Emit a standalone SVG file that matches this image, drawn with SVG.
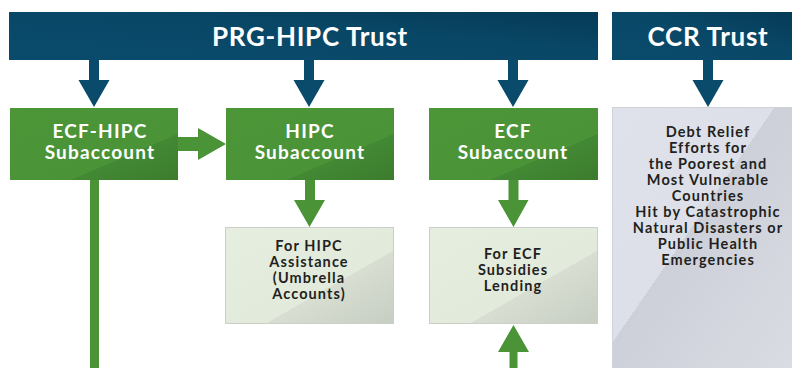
<svg xmlns="http://www.w3.org/2000/svg" width="792" height="368" viewBox="0 0 792 368">
<defs>
<linearGradient id="gBlue" x1="0" y1="1" x2="1" y2="0">
<stop offset="0" stop-color="#0a4b6c"/>
<stop offset="0.6" stop-color="#094766"/>
<stop offset="1" stop-color="#053a57"/>
</linearGradient>
<linearGradient id="gGreen" x1="0" y1="0" x2="1" y2="1">
<stop offset="0" stop-color="#4c9638"/>
<stop offset="0.68" stop-color="#4a9337"/>
<stop offset="0.68" stop-color="#438934"/>
<stop offset="1" stop-color="#3b7c2d"/>
</linearGradient>
<linearGradient id="gLight" x1="0" y1="0" x2="1" y2="1">
<stop offset="0" stop-color="#e6eee0"/>
<stop offset="0.62" stop-color="#e2eadc"/>
<stop offset="0.62" stop-color="#d8ded2"/>
<stop offset="1" stop-color="#c6cdc2"/>
</linearGradient>
<linearGradient id="gGray" x1="0" y1="0" x2="1" y2="1">
<stop offset="0" stop-color="#dfe2ea"/>
<stop offset="0.45" stop-color="#dde0e8"/>
<stop offset="0.45" stop-color="#cdd0d8"/>
<stop offset="1" stop-color="#d9dce3"/>
</linearGradient>
<style>
.t{font-family:Lato,"Open Sans","Liberation Sans",sans-serif;font-weight:bold;text-anchor:middle}
.hdr{fill:#ffffff;font-size:26px;letter-spacing:0.7px}
.sub{fill:#ffffff;font-size:19px;letter-spacing:1.2px}
.dk{fill:#231f20;font-size:14.5px;letter-spacing:1.1px}
.blue{fill:#0a4a6b}
.green{fill:#4a9337}
</style>
</defs>

<g id="prg-hipc-trust">
<rect x="9" y="12" width="589" height="48" fill="url(#gBlue)"/>
<text class="t hdr" x="310" y="46">PRG-HIPC Trust</text>
</g>
<g id="ccr-trust">
<rect x="612" y="12" width="180" height="48" fill="url(#gBlue)"/>
<text class="t hdr" x="708" y="46">CCR Trust</text>
</g>

<g id="ecf-hipc-subaccount">
<rect x="10" y="108" width="168" height="72" fill="url(#gGreen)"/>
<text class="t sub" x="100" y="138">ECF-HIPC</text>
<text class="t sub" x="100" y="159">Subaccount</text>
</g>
<g id="hipc-subaccount">
<rect x="226" y="108" width="168" height="72" fill="url(#gGreen)"/>
<text class="t sub" x="310" y="138">HIPC</text>
<text class="t sub" x="310" y="159">Subaccount</text>
</g>
<g id="ecf-subaccount">
<rect x="429" y="108" width="169" height="72" fill="url(#gGreen)"/>
<text class="t sub" x="513" y="138">ECF</text>
<text class="t sub" x="513" y="159">Subaccount</text>
</g>

<g id="ccr-box">
<rect x="612.5" y="107.5" width="180" height="261" fill="url(#gGray)" stroke="#cfd2d8" stroke-width="1"/>
<text class="t dk" x="708" y="137">Debt Relief</text>
<text class="t dk" x="708" y="153">Efforts for</text>
<text class="t dk" x="708" y="169">the Poorest and</text>
<text class="t dk" x="708" y="185">Most Vulnerable</text>
<text class="t dk" x="708" y="201">Countries</text>
<text class="t dk" x="708" y="217">Hit by Catastrophic</text>
<text class="t dk" x="708" y="233">Natural Disasters or</text>
<text class="t dk" x="708" y="249">Public Health</text>
<text class="t dk" x="708" y="265">Emergencies</text>
</g>

<g id="hipc-assistance">
<rect x="225.5" y="227.5" width="168" height="96" fill="url(#gLight)" stroke="#cbcfc8" stroke-width="1"/>
<text class="t dk" x="309" y="251">For HIPC</text>
<text class="t dk" x="309" y="267">Assistance</text>
<text class="t dk" x="309" y="283">(Umbrella</text>
<text class="t dk" x="309" y="299">Accounts)</text>
</g>
<g id="ecf-subsidies">
<rect x="429.5" y="227.5" width="168" height="96" fill="url(#gLight)" stroke="#cbcfc8" stroke-width="1"/>
<text class="t dk" x="513" y="259">For ECF</text>
<text class="t dk" x="513" y="275">Subsidies</text>
<text class="t dk" x="513" y="291">Lending</text>
</g>

<g id="connectors">
<path class="blue" d="M89 60H99V80H109.5L94 107L78.5 80H89Z"/>
<path class="blue" d="M304 60H314V80H324.5L309 107L293.5 80H304Z"/>
<path class="blue" d="M508 60H518V80H528.5L513 107L497.5 80H508Z"/>
<path class="blue" d="M703 60H713V80H723.5L708 107L692.5 80H703Z"/>
<path class="green" d="M178 137H198V128L226 144L198 160V151H178Z"/>
<rect class="green" x="90" y="180" width="9" height="188"/>
<path class="green" d="M305 180H315V200H325L309.5 227L294 200H305Z"/>
<path class="green" d="M508.5 180H518.5V200H528.5L513.5 227L498 200H508.5Z"/>
<path class="green" d="M509.5 368V352H498L513.5 325L529 352H517.5V368Z"/>
</g>
</svg>
